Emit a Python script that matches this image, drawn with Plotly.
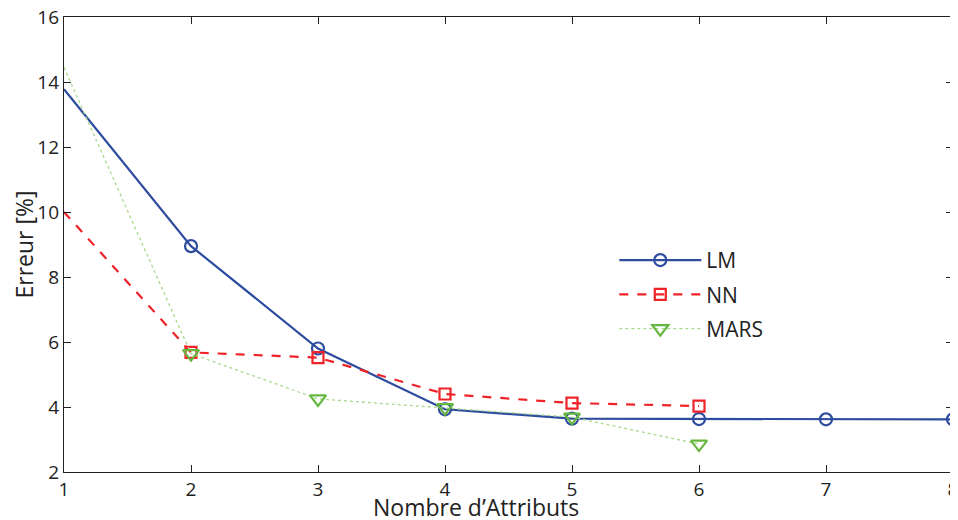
import plotly.graph_objects as go

x_lm = [1, 2, 3, 4, 5, 6, 7, 8]
lm = [13.78, 8.95, 5.8, 3.93, 3.64, 3.63, 3.62, 3.62]
x_nn = [1, 2, 3, 4, 5, 6]
nn = [10.0, 5.68, 5.52, 4.40, 4.12, 4.03]
x_mars = [1, 2, 3, 4, 5, 6]
mars = [14.45, 5.64, 4.25, 3.98, 3.69, 2.86]

x_ticks = [1, 2, 3, 4, 5, 6, 7, 8]
y_ticks = [2, 4, 6, 8, 10, 12, 14, 16]

FONT = "Open Sans, Liberation Sans, sans-serif"

series = [
    # name, xs, ys, colour of line, line width, dash, marker symbol, marker colour, marker size
    ("LM", x_lm, lm, "#2E4C9F", 2.2, "solid", "circle-open", "#2E4C9F", 12),
    ("NN", x_nn, nn, "#EE2328", 2.2, "dash", "square-open", "#EE2328", 11),
    ("MARS", x_mars, mars, "#A9D98C", 1.3, "dot", "triangle-down-open", "#66B73F", 14),
]

fig = go.Figure()
for i, (name, xs, ys, lc, lw, dash, sym, mc, ms) in enumerate(series):
    grp = "g%d" % i
    # line through all points
    fig.add_trace(go.Scatter(
        x=xs, y=ys, name=name, mode="lines", legendgroup=grp, showlegend=False,
        line=dict(color=lc, width=lw, dash=dash),
    ))
    # markers (the reference shows no marker at the first point, x = 1)
    fig.add_trace(go.Scatter(
        x=xs[1:], y=ys[1:], name=name, mode="markers", legendgroup=grp, showlegend=False,
        marker=dict(symbol=sym, size=ms, color=mc, line=dict(width=2.2)),
    ))
    # legend entry
    fig.add_trace(go.Scatter(
        x=[None], y=[None], name=name, mode="lines+markers", legendgroup=grp,
        line=dict(color=lc, width=lw, dash=dash),
        marker=dict(symbol=sym, size=ms, color=mc, line=dict(width=2.2)),
    ))

axis_common = dict(
    showline=True, linecolor="#222222", linewidth=1.3, mirror="allticks",
    ticks="inside", ticklen=7, tickwidth=1, tickcolor="#222222",
    showgrid=False, zeroline=False, ticklabeloverflow="allow", automargin=False,
    tickfont=dict(family=FONT, size=19, color="#222222"),
)

# page body has an 8px margin; figure is sized/margined to compensate
fig.update_layout(
    width=950, height=512,
    margin=dict(l=56, r=5, t=9, b=48, autoexpand=False),
    plot_bgcolor="white", paper_bgcolor="white",
    font=dict(family=FONT, size=18, color="#222222"),
    xaxis=dict(range=[1, 8], tickvals=x_ticks, **axis_common),
    yaxis=dict(range=[2, 16], tickvals=y_ticks,
               title=dict(text="Erreur [%]", font=dict(size=23), standoff=4),
               **axis_common),
    legend=dict(x=0.619, y=0.51, xanchor="left", yanchor="top",
                bgcolor="rgba(0,0,0,0)", font=dict(size=21, family=FONT),
                tracegroupgap=4, itemwidth=82),
    showlegend=True,
    annotations=[dict(
        text="Nombre d\u2019Attributs", xref="paper", yref="paper",
        x=0.463, y=0, xanchor="center", yanchor="middle", yshift=-35,
        showarrow=False, font=dict(size=23, family=FONT, color="#222222"),
    )],
)

fig.write_html("out.html")
